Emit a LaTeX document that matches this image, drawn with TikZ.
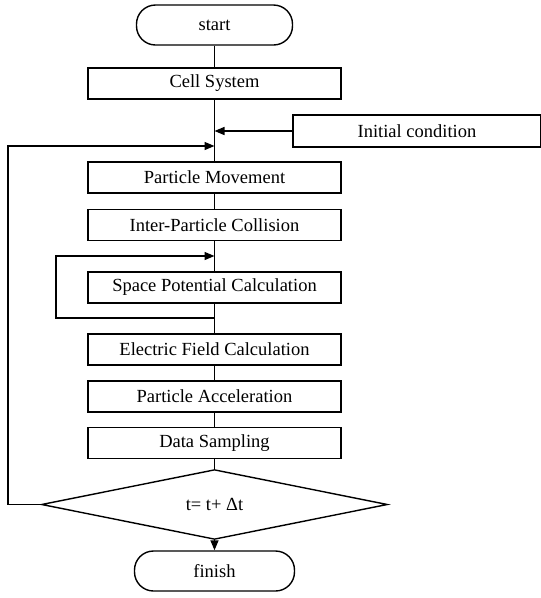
\documentclass[tikz,border=0pt]{standalone}
\usepackage{fontspec}
\setmainfont{Liberation Serif}
\usetikzlibrary{arrows.meta,shapes.geometric}

\begin{document}
\begin{tikzpicture}[x=1pt,y=-1pt,
  line width=1.4pt,
  every node/.style={font=\fontsize{18.5}{20}\selectfont, inner sep=0pt},
  procbox/.style={draw, rectangle, minimum width=253pt, minimum height=31pt},
  termbox/.style={draw, rectangle, rounded corners=19pt, minimum width=156pt, minimum height=40pt},
  testbox/.style={draw, diamond, minimum width=346pt, minimum height=61pt},
  flow/.style={-{Triangle[length=10pt,width=8pt]}}
]
\useasboundingbox (0,0) rectangle (541,598);

% main column
\node[termbox] (start) at (214.5,25) {start};
\node[procbox] (cell) at (214.5,83.5) {Cell System};
\node[draw, rectangle, minimum width=248pt, minimum height=32pt] (init) at (417,131) {Initial condition};
\node[procbox] (pm)  at (214.5,177.5) {Particle Movement};
\node[procbox] (ipc) at (214.5,225) {Inter-Particle Collision};
\node[procbox] (spc) at (214.5,287.5) {Space Potential Calculation};
\node[procbox] (efc) at (214.5,349.5) {Electric Field Calculation};
\node[procbox] (pa)  at (214.5,396.5) {Particle Acceleration};
\node[procbox] (ds)  at (214.5,443) {Data Sampling};
\node[testbox] (dt)  at (214.5,504.5) {t= t+ Δt};
\node[termbox, minimum width=160pt] (fin) at (214.5,571) {finish};

% junction points on the main line
\coordinate (jinit) at (214.5,131);
\coordinate (jloop) at (214.5,146);
\coordinate (jin)   at (214.5,256);
\coordinate (jout)  at (214.5,318);
\coordinate (lft)   at (8,504.5);
\coordinate (ilft)  at (56,318);

% straight connections
\draw (start.south) -- (cell.north);
\draw (cell.south) -- (pm.north);
\draw (pm.south) -- (ipc.north);
\draw (ipc.south) -- (spc.north);
\draw (spc.south) -- (efc.north);
\draw (efc.south) -- (pa.north);
\draw (pa.south) -- (ds.north);
\draw (ds.south) -- (dt.north);
\draw[flow] (dt.south) -- (fin.north);

% side input and loops
\draw[flow] (init.west) -- (jinit);
\draw[flow] (dt.west) -- (lft) |- (jloop);
\draw[flow] (jout) -- (ilft) |- (jin);
\end{tikzpicture}
\end{document}
